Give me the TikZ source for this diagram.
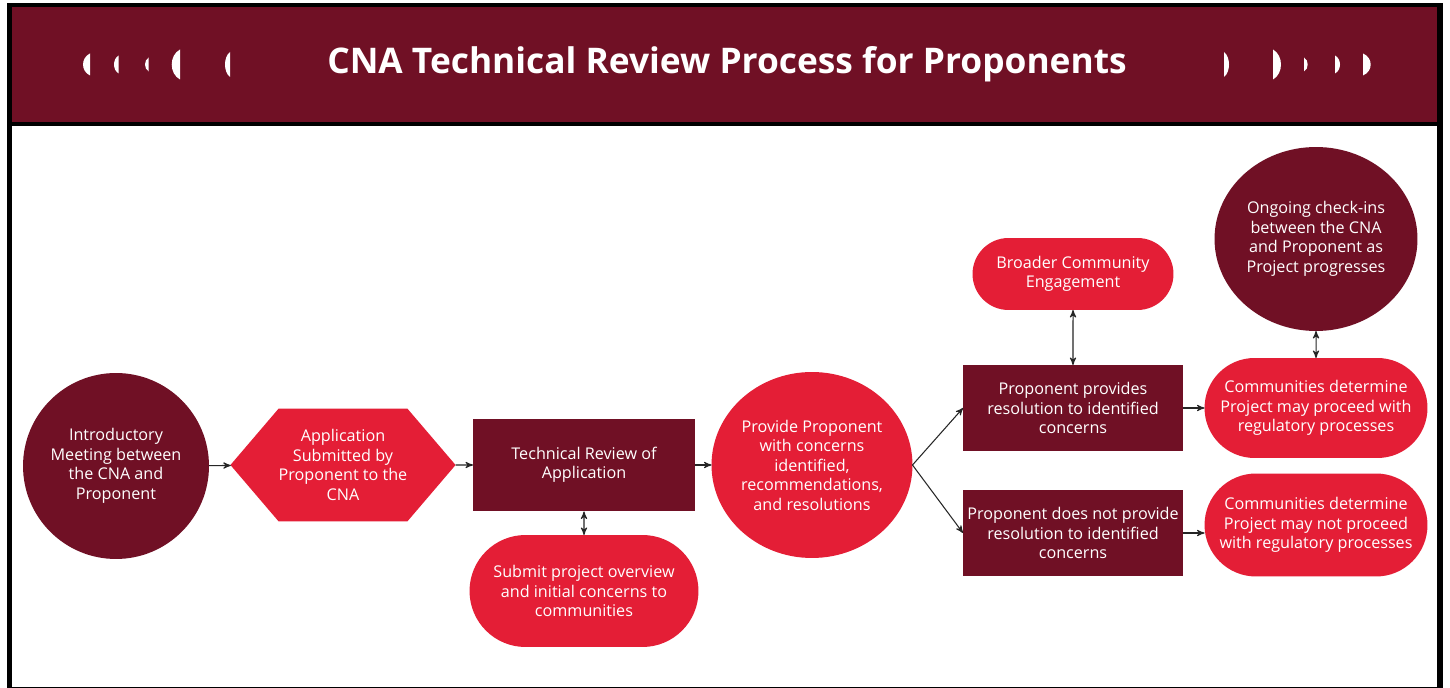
\documentclass[tikz,border=0pt]{standalone}
\usepackage{fontspec}
\setmainfont{Open Sans}
\usetikzlibrary{arrows}
\usetikzlibrary{shapes.geometric,shapes.misc,shapes.symbols}
\definecolor{cnadark}{RGB}{112,16,37}
\definecolor{cnared}{RGB}{228,30,54}

\begin{document}
\begin{tikzpicture}[x=.02cm, y=-.02cm,
 every node/.style={text=white, align=center, inner sep=0, outer sep=0, font=\fontsize{9.2}{11.1}\selectfont},
 darkbox/.style={fill=cnadark, rectangle, minimum width=4.4cm},
 redpill/.style={fill=cnared, rounded rectangle},
 link/.style={draw=black!85, line width=.6pt, >=stealth'}]
\useasboundingbox (0,0) rectangle (1450,688);
\fill[black] (7,3) rectangle (1443,688);
\fill[white] (12,126) rectangle (1437,687);
\fill[cnadark] (12,7) rectangle (1437,122);
\foreach \x/\w/\h in {90/7/11, 118.7/4.7/9, 148.7/3.7/7, 180/8.3/15, 230/5/12.5} {
 \fill[white] (\x,64.5-\h) .. controls (\x-1.33*\w,64.5-.6*\h) and (\x-1.33*\w,64.5+.6*\h) .. (\x,64.5+\h) -- cycle;
}
\foreach \x/\w/\h in {1224/5/12.5, 1273/8/15, 1304/3.7/7, 1335/5/9, 1363/7.7/11} {
 \fill[white] (\x,64.5-\h) .. controls (\x+1.33*\w,64.5-.6*\h) and (\x+1.33*\w,64.5+.6*\h) .. (\x,64.5+\h) -- cycle;
}
\node[font=\fontsize{20.1}{24}\selectfont\bfseries, anchor=base] (title) at (727,73.5) {CNA Technical Review Process for Proponents};

\node[circle, fill=cnadark, minimum size=3.72cm] (intro) at (116,466) {Introductory\\Meeting between\\the CNA and\\Proponent};
\node[signal, signal to=west and east, signal pointer angle=99, fill=cnared, minimum width=4.28cm, minimum height=2.26cm] (app) at (343,465) {Application\\Submitted by\\Proponent to the\\CNA};
\node[darkbox, minimum width=4.44cm, minimum height=1.86cm] (review) at (584,465) {Technical Review of\\Application};
\node[redpill, minimum width=4.58cm, minimum height=2.24cm] (submit) at (584,591) {Submit project overview\\and initial concerns to\\communities};
\node[ellipse, fill=cnared, minimum width=4.02cm, minimum height=3.72cm] (provide) at (812,465) {Provide Proponent\\with concerns\\identified,\\recommendations,\\and resolutions};
\node[darkbox, minimum height=1.72cm] (resolve) at (1073,408) {Proponent provides\\resolution to identified\\concerns};
\node[darkbox, minimum height=1.74cm] (noresolve) at (1073,533) {Proponent does not provide\\resolution to identified\\concerns};
\node[redpill, minimum width=4.02cm, minimum height=1.44cm] (broader) at (1073,274) {Broader Community\\Engagement};
\node[ellipse, fill=cnadark, minimum width=4.06cm, minimum height=3.68cm] (checkin) at (1316,239) {Ongoing check-ins\\between the CNA\\and Proponent as\\Project progresses};
\node[redpill, minimum width=4.46cm, minimum height=2cm] (proceed) at (1316,408) {Communities determine\\Project may proceed with\\regulatory processes};
\node[redpill, minimum width=4.46cm, minimum height=2.06cm] (noproceed) at (1316,525) {Communities determine\\Project may not proceed\\with regulatory processes};

\draw[link, ->] (intro) -- (app);
\draw[link, ->] (app) -- (review);
\draw[link, ->] (review) -- (provide);
\draw[link, ->] (provide.east) -- (resolve.west);
\draw[link, ->] (provide.east) -- (noresolve.west);
\draw[link, ->] (resolve) -- (proceed);
\draw[link, ->] (noresolve) -- (noresolve -| noproceed.west);
\draw[link, <->] (review) -- (submit);
\draw[link, <->] (broader) -- (resolve);
\draw[link, <->] (checkin) -- (proceed);
\end{tikzpicture}
\end{document}
